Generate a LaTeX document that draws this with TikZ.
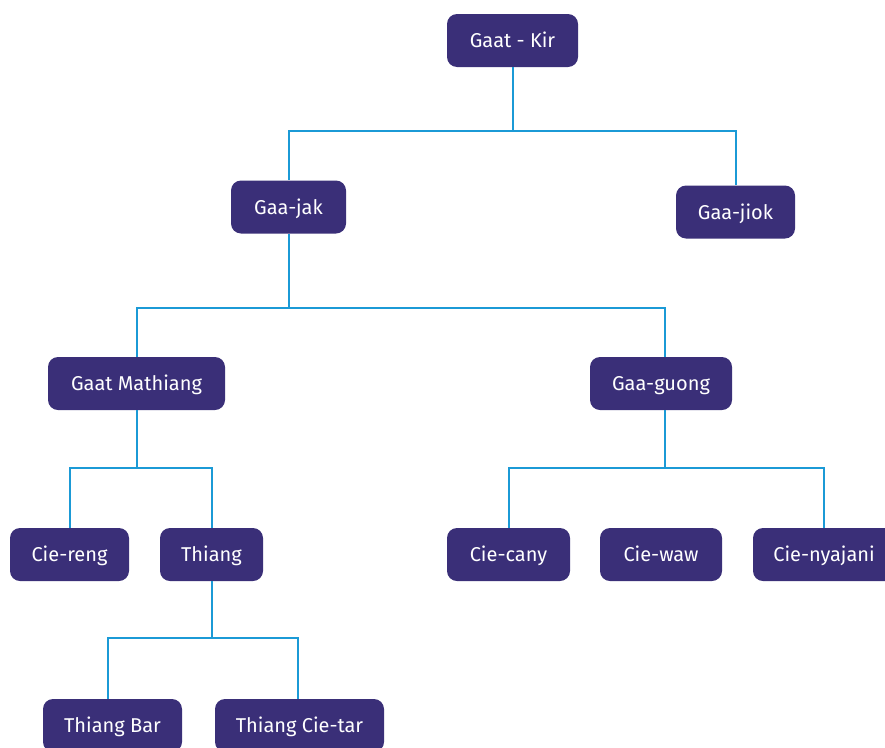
\documentclass[tikz,border=0pt]{standalone}
\usepackage{fontspec}
\setmainfont{Fira Sans}
\definecolor{boxfill}{HTML}{3A2F78}
\definecolor{linkcol}{HTML}{1B9AD6}
\begin{document}
\begin{tikzpicture}[x=1pt,y=-1pt,
  box/.style={draw=none, fill=boxfill, rounded corners=10pt, text=white,
    minimum height=53pt, inner xsep=0pt, text height=14pt, text depth=0pt,
    font=\fontsize{20}{24}\selectfont},
  link/.style={draw=linkcol, line width=2pt}]
\useasboundingbox (0,0) rectangle (885,747);
\node[box, minimum width=131pt] (kir) at (512.5,40.5) {Gaat - Kir};
\node[box, minimum width=115pt] (jak) at (288.5,207) {Gaa-jak};
\node[box, minimum width=119pt] (jiok) at (735.5,212) {Gaa-jiok};
\node[box, minimum width=177pt] (math) at (136.5,383.5) {Gaat Mathiang};
\node[box, minimum width=142pt] (guong) at (661,383.5) {Gaa-guong};
\node[box, minimum width=119pt] (reng) at (69.5,554.5) {Cie-reng};
\node[box, minimum width=103pt] (thiang) at (211.5,554.5) {Thiang};
\node[box, minimum width=123pt] (cany) at (508.5,554.5) {Cie-cany};
\node[box, minimum width=122pt] (waw) at (661,554.5) {Cie-waw};
\node[box, minimum width=142pt] (nya) at (824,554.5) {Cie-nyajani};
\node[box, minimum width=139pt] (bar) at (112.5,725.5) {Thiang Bar};
\node[box, minimum width=169pt] (tar) at (299.5,725.5) {Thiang Cie-tar};
\coordinate (y1) at (0,131);
\coordinate (y2) at (0,308);
\coordinate (y3) at (0,468);
\coordinate (y4) at (0,638);
% level 1
\draw[link] (kir.south) -- (kir.south |- y1) -| (jak.north);
\draw[link] (kir.south |- y1) -| (jiok.north);
% level 2
\draw[link] (jak.south) -- (jak.south |- y2) -| (math.north);
\draw[link] (jak.south |- y2) -| ([xshift=4pt]guong.north);
% level 3
\draw[link] (math.south) -- (math.south |- y3) -| (reng.north);
\draw[link] (math.south |- y3) -| (thiang.north);
\draw[link] ([xshift=4pt]guong.south) -- ([xshift=4pt]guong.south |- y3) -| (cany.north);
\draw[link] ([xshift=4pt]guong.south |- y3) -| (nya.north);
% level 4
\draw[link] (thiang.south) -- (thiang.south |- y4) -| ([xshift=-4.5pt]bar.north);
\draw[link] (thiang.south |- y4) -| ([xshift=-1.5pt]tar.north);
\end{tikzpicture}
\end{document}
